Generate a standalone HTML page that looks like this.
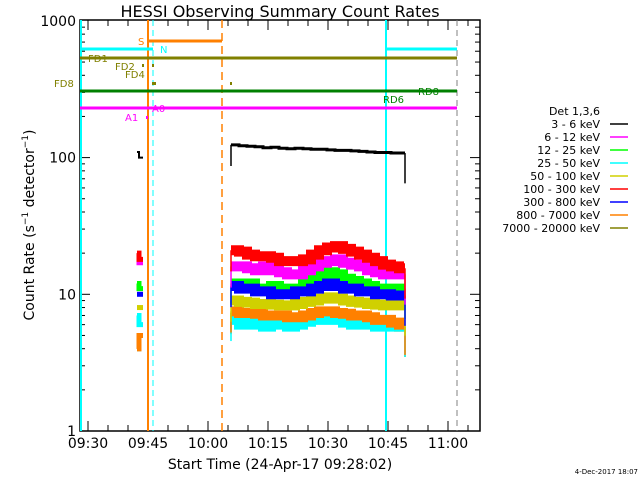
<!DOCTYPE html>
<html><head><meta charset="utf-8"><style>
html,body{margin:0;padding:0;background:#fff;width:640px;height:480px;overflow:hidden}
svg text{font-family:"DejaVu Sans","Liberation Sans",sans-serif}
</style></head><body>
<svg id="chart" width="640" height="480" viewBox="0 0 640 480" xmlns="http://www.w3.org/2000/svg">
<rect width="640" height="480" fill="#fff"/>
<text x="280" y="17" font-size="16" text-anchor="middle">HESSI Observing Summary Count Rates</text>
<text x="280" y="469" font-size="14" text-anchor="middle">Start Time (24-Apr-17 09:28:02)</text>
<text transform="translate(34,225) rotate(-90)" font-size="14" text-anchor="middle">Count Rate (s<tspan font-size="9" dy="-6">−1</tspan><tspan dy="6"> detector</tspan><tspan font-size="9" dy="-6">−1</tspan><tspan dy="6">)</tspan></text>
<text x="638" y="474" font-size="7" text-anchor="end">4-Dec-2017 18:07</text>
<g id="plot"></g>
<g id="legend"></g>
</svg>
<script>
const ns="http://www.w3.org/2000/svg";
const bandNames=["3 - 6 keV","6 - 12 keV","12 - 25 keV","25 - 50 keV","50 - 100 keV","100 - 300 keV","300 - 800 keV","800 - 7000 keV","7000 - 20000 keV"];
const bandColors=["#000","#ff00ff","#00ff00","#00ffff","#d0d000","#ff0000","#0000ff","#ff8000","#808000"];
const xTickLabels=["09:30","09:45","10:00","10:15","10:30","10:45","11:00"];
const xTickMinutes=[0,15,30,45,60,75,90];
const yTickValues=[1,10,100,1000];
const yTickLabels=["1","10","100","1000"];
const earlyTimes=[12.25,12.75,13.25];
const earlyValues=[[110,100,100],[18,17,17],[12,11,11],[7,6,6],[8,8,8],[20,18,18],[10,10,10],[4,5,5],[4,5,5]];
const mainTimes=[35.75,37.75,39.75,41.75,43.75,45.75,47.75,49.75,51.75,53.75,55.75,57.75,59.75,61.75,63.75,65.75,67.75,69.75,71.75,73.75,75.75,77.75,78.75];
const s0=[124,122,121,120,118,119,117,116,117,116,115,115,114,113,113,112,111,110,109,109,108,108,108];
const s1=[16,16,15.5,15,16,15,14.5,14,14,15,16,17,17.5,18,17,16.5,16,15,14.5,14,14,14,14];
const s2=[12,11.5,12,11,11,11.5,11,10.5,11,12,13,14,14.5,14,13,12.5,12,11.5,11,11,11,11,11];
const s3=[6.5,6,6.2,6,5.8,6,6.1,5.8,6,6.3,6.5,6.5,6.6,6.5,6.2,6,6.2,6,5.8,5.8,5.8,5.8,5.8];
const s4=[9,8.8,8.7,8.5,8.5,8.4,8.3,8.3,8.5,8.8,9,9.3,9.5,9.3,9,8.8,8.7,8.5,8.4,8.3,8.3,8.3,8.3];
const s5=[21,20.5,19.5,19,19,18.5,17.5,17.5,17.5,18,19.5,21,22,22.5,21.5,20.5,19.5,18.5,17.5,16.5,16,15.5,15.5];
const s6=[11.5,11,11,10.5,10.5,10,10,10,10.5,10.5,11,11.5,12,11.5,11,11,10.5,10.5,10,10,9.8,9.8,9.8];
const s7=[7.5,7.3,7.3,7.2,7,7,7,6.8,6.8,7,7.3,7.5,7.5,7.3,7.2,7,7,6.8,6.5,6.5,6.2,6,6];
const s8=[7.3,7.1,7.1,7,6.8,6.8,6.8,6.6,6.6,6.8,7.1,7.3,7.3,7.1,7,6.8,6.8,6.6,6.3,6.3,6,5.8,5.8];
const mainValues=[s0,s1,s2,s3,s4,s5,s6,s7,s8];
const X0=80,X1=480,Y0=20,Y1=431;
function xs(m){return 88+m*4;}
function ys(v){return 431-Math.log10(v)*136.7;}
const plot=document.getElementById('plot');
function el(tag,attrs,parent){const e=document.createElementNS(ns,tag);for(const k in attrs)e.setAttribute(k,attrs[k]);(parent||plot).appendChild(e);return e;}
let frame=el('rect',{x:X0,y:Y0,width:X1-X0,height:Y1-Y0,fill:'none',stroke:'#000','stroke-width':1.5});


for(let m=-5;m<=95;m+=5){const x=xs(m);if(x<X0||x>X1)continue;const major=m%15===0;const L=major?10:6;
 el('line',{x1:x,x2:x,y1:Y1,y2:Y1-L,stroke:'#000'});el('line',{x1:x,x2:x,y1:Y0,y2:Y0+L,stroke:'#000'});}
xTickLabels.forEach((t,i)=>{const e=el('text',{x:xs(xTickMinutes[i]),y:448,'font-size':14,'text-anchor':'middle'});e.textContent=t;
 
 });
for(let d=0;d<3;d++)for(let k=1;k<10;k++){const v=Math.pow(10,d)*k;const y=ys(v);const L=k===1?10:5;
 el('line',{x1:X0,x2:X0+L,y1:y,y2:y,stroke:'#000'});el('line',{x1:X1,x2:X1-L,y1:y,y2:y,stroke:'#000'});}
yTickValues.forEach((v,i)=>{const e=el('text',{x:76,y:ys(v)+5,'font-size':14,'text-anchor':'end'});e.textContent=yTickLabels[i];
 
 });
el('line',{x1:81,x2:81,y1:Y0,y2:Y1,stroke:'#00ffff','stroke-width':2});
el('line',{x1:148,x2:148,y1:Y0,y2:Y1,stroke:'#ff8000','stroke-width':2});
el('line',{x1:153,x2:153,y1:Y0,y2:Y1,stroke:'#00ffff','stroke-width':1,'stroke-dasharray':'6,4'});
el('line',{x1:222,x2:222,y1:Y0,y2:Y1,stroke:'#ff8000','stroke-width':1.5,'stroke-dasharray':'8,5'});
el('line',{x1:386,x2:386,y1:Y0,y2:Y1,stroke:'#00ffff','stroke-width':2});
el('line',{x1:457,x2:457,y1:Y0,y2:Y1,stroke:'#808080','stroke-width':1,'stroke-dasharray':'6,4'});
el('line',{x1:148,x2:222,y1:41,y2:41,stroke:'#ff8000','stroke-width':3});
el('line',{x1:80,x2:153,y1:49,y2:49,stroke:'#00ffff','stroke-width':3});
el('line',{x1:386,x2:457,y1:49,y2:49,stroke:'#00ffff','stroke-width':3});
el('line',{x1:80,x2:457,y1:58,y2:58,stroke:'#808000','stroke-width':3});
el('line',{x1:80,x2:457,y1:91,y2:91,stroke:'#008000','stroke-width':3});
el('line',{x1:80,x2:457,y1:108,y2:108,stroke:'#ff00ff','stroke-width':3});
[[142,65,'#808000'],[152,65,'#808000'],[152,83,'#808000'],[154,83,'#808000'],[230,83,'#808000'],[146,117,'#ff00ff']].forEach(p=>el('rect',{x:p[0],y:p[1]-1,width:2,height:3,fill:p[2]}));
const flags=[["S",138,45,'#ff8000'],["N",160,53,'#00ffff'],["FD1",88,62,'#808000'],["FD2",115,70,'#808000'],["FD4",125,78,'#808000'],["FD8",54,87,'#808000'],["RD8",418,95,'#008000'],["RD6",383,103,'#008000'],["A0",152,112,'#ff00ff'],["A1",125,121,'#ff00ff']];
flags.forEach(f=>{const e=el('text',{x:f[1],y:f[2],'font-size':10,fill:f[3]});e.textContent=f[0];
 
 });
function stepPath(t,v){let d='';for(let i=0;i<t.length;i++){const x=xs(t[i]),y=ys(v[i]);d+=(i?'L'+x+' '+ys(v[i-1])+'L':'M')+x+' '+y;}
 const xe=xs(t[t.length-1]+0.5);d+='L'+xe+' '+ys(v[v.length-1]);return d;}
const drawOrder=[8,3,7,4,2,6,1,5,0];
drawOrder.forEach(i=>{
 const w=i===0?3:10;
 const p1=el('path',{d:stepPath(earlyTimes,earlyValues[i]),fill:'none',stroke:bandColors[i],'stroke-width':i===0?2:5});
 
 
 const p2=el('path',{d:stepPath(mainTimes,mainValues[i]),fill:'none',stroke:bandColors[i],'stroke-width':w});
 
 
 const xa=xs(mainTimes[0]),xb=xs(mainTimes[mainTimes.length-1]+0.5);
 el('line',{x1:xa,x2:xa,y1:ys(mainValues[i][0]),y2:ys(mainValues[i][0]*0.7),stroke:bandColors[i],'stroke-width':1.5});
 el('line',{x1:xb,x2:xb,y1:ys(mainValues[i][mainValues[i].length-1]),y2:ys(mainValues[i][mainValues[i].length-1]*0.6),stroke:bandColors[i],'stroke-width':1.5});
});
const lg=document.getElementById('legend');
let t=el('text',{x:600,y:115,'font-size':11,'text-anchor':'end'},lg);t.textContent='Det 1,3,6';


bandNames.forEach((n,i)=>{const y=128+i*13;
 const e=el('text',{x:600,y:y,'font-size':11,'text-anchor':'end'},lg);e.textContent=n;
 
 
 el('line',{x1:610,x2:628,y1:y-4,y2:y-4,stroke:bandColors[i],'stroke-width':1.5},lg);});
</script>
</body></html>
